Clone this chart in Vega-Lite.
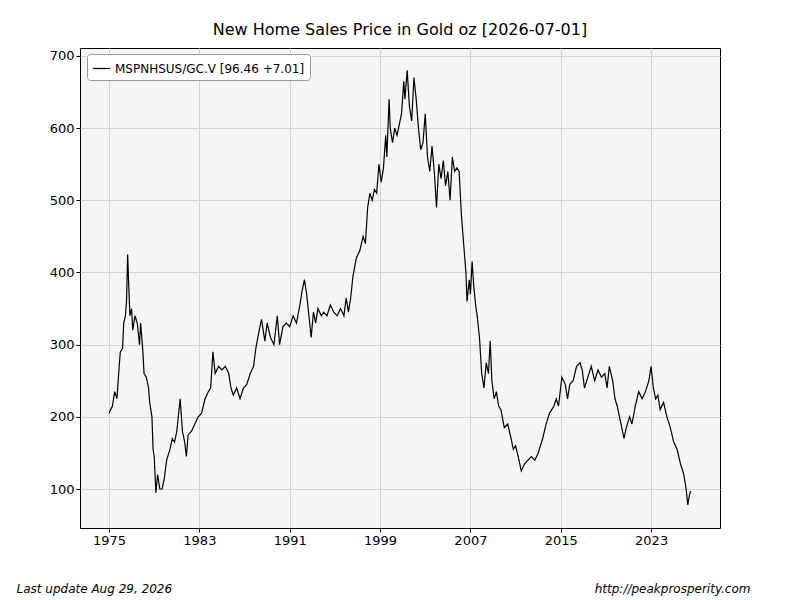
{
"$schema":"https://vega.github.io/schema/vega-lite/v6.json",
"width":640,"height":480,
"autosize":{"type":"none"},
"padding":{"left":80,"top":48,"right":80,"bottom":72},
"background":"white",
"config":{"font":"DejaVu Sans","view":{"fill":"#f5f5f5","stroke":"black","strokeWidth":1},
"axis":{"gridColor":"#d3d3d3","gridWidth":1,"labelFont":"DejaVu Sans","labelFontSize":13,"labelColor":"black","tickColor":"black","domain":false,"tickSize":4}},
"title":{"text":"New Home Sales Price in Gold oz  [2026-07-01]","fontSize":16,"fontWeight":"normal","font":"DejaVu Sans","offset":10,"color":"black"},
"data":{"values":[
{"t":1975.0,"v":205},{"t":1975.3,"v":215},{"t":1975.5,"v":235},{"t":1975.7,"v":225},{"t":1975.9,"v":270},{"t":1976.0,"v":290},{"t":1976.2,"v":295},{"t":1976.3,"v":330},{"t":1976.45,"v":340},{"t":1976.55,"v":360},{"t":1976.65,"v":425},{"t":1976.75,"v":380},{"t":1976.85,"v":340},{"t":1977.0,"v":350},{"t":1977.1,"v":320},{"t":1977.3,"v":340},{"t":1977.5,"v":330},{"t":1977.7,"v":300},{"t":1977.8,"v":330},{"t":1978.0,"v":290},{"t":1978.1,"v":260},{"t":1978.3,"v":255},{"t":1978.5,"v":240},{"t":1978.6,"v":220},{"t":1978.8,"v":200},{"t":1978.9,"v":155},{"t":1979.0,"v":145},{"t":1979.15,"v":95},{"t":1979.3,"v":120},{"t":1979.5,"v":100},{"t":1979.7,"v":100},{"t":1979.9,"v":115},{"t":1980.1,"v":140},{"t":1980.4,"v":155},{"t":1980.6,"v":170},{"t":1980.8,"v":165},{"t":1981.0,"v":180},{"t":1981.2,"v":210},{"t":1981.3,"v":225},{"t":1981.5,"v":180},{"t":1981.7,"v":165},{"t":1981.85,"v":145},{"t":1982.0,"v":175},{"t":1982.3,"v":180},{"t":1982.6,"v":190},{"t":1982.9,"v":200},{"t":1983.2,"v":205},{"t":1983.5,"v":225},{"t":1983.8,"v":235},{"t":1984.0,"v":240},{"t":1984.2,"v":290},{"t":1984.4,"v":260},{"t":1984.7,"v":270},{"t":1985.0,"v":265},{"t":1985.3,"v":270},{"t":1985.6,"v":260},{"t":1985.8,"v":240},{"t":1986.0,"v":230},{"t":1986.3,"v":240},{"t":1986.6,"v":225},{"t":1986.9,"v":240},{"t":1987.2,"v":245},{"t":1987.5,"v":260},{"t":1987.8,"v":270},{"t":1988.0,"v":295},{"t":1988.3,"v":320},{"t":1988.5,"v":335},{"t":1988.8,"v":305},{"t":1989.0,"v":330},{"t":1989.3,"v":310},{"t":1989.6,"v":300},{"t":1989.9,"v":340},{"t":1990.1,"v":300},{"t":1990.4,"v":325},{"t":1990.7,"v":330},{"t":1991.0,"v":325},{"t":1991.3,"v":340},{"t":1991.6,"v":330},{"t":1991.9,"v":355},{"t":1992.1,"v":375},{"t":1992.3,"v":390},{"t":1992.5,"v":370},{"t":1992.7,"v":340},{"t":1992.9,"v":310},{"t":1993.1,"v":345},{"t":1993.3,"v":330},{"t":1993.5,"v":350},{"t":1993.8,"v":340},{"t":1994.0,"v":345},{"t":1994.3,"v":340},{"t":1994.6,"v":355},{"t":1994.9,"v":345},{"t":1995.2,"v":340},{"t":1995.5,"v":350},{"t":1995.8,"v":340},{"t":1996.0,"v":365},{"t":1996.2,"v":345},{"t":1996.4,"v":365},{"t":1996.6,"v":395},{"t":1996.9,"v":420},{"t":1997.2,"v":430},{"t":1997.5,"v":450},{"t":1997.7,"v":440},{"t":1997.9,"v":490},{"t":1998.1,"v":510},{"t":1998.3,"v":500},{"t":1998.5,"v":515},{"t":1998.7,"v":510},{"t":1998.9,"v":550},{"t":1999.1,"v":525},{"t":1999.3,"v":545},{"t":1999.5,"v":590},{"t":1999.6,"v":560},{"t":1999.8,"v":640},{"t":1999.9,"v":600},{"t":2000.1,"v":580},{"t":2000.3,"v":600},{"t":2000.5,"v":590},{"t":2000.7,"v":605},{"t":2000.9,"v":620},{"t":2001.1,"v":665},{"t":2001.2,"v":640},{"t":2001.4,"v":680},{"t":2001.6,"v":630},{"t":2001.8,"v":610},{"t":2002.0,"v":670},{"t":2002.2,"v":640},{"t":2002.4,"v":600},{"t":2002.6,"v":570},{"t":2002.8,"v":580},{"t":2003.0,"v":620},{"t":2003.2,"v":560},{"t":2003.4,"v":540},{"t":2003.6,"v":575},{"t":2003.8,"v":540},{"t":2004.0,"v":490},{"t":2004.2,"v":550},{"t":2004.4,"v":530},{"t":2004.6,"v":555},{"t":2004.8,"v":520},{"t":2005.0,"v":540},{"t":2005.2,"v":500},{"t":2005.4,"v":560},{"t":2005.6,"v":540},{"t":2005.8,"v":545},{"t":2006.0,"v":540},{"t":2006.2,"v":480},{"t":2006.4,"v":440},{"t":2006.6,"v":400},{"t":2006.7,"v":360},{"t":2006.9,"v":390},{"t":2007.0,"v":370},{"t":2007.15,"v":415},{"t":2007.3,"v":380},{"t":2007.5,"v":350},{"t":2007.6,"v":340},{"t":2007.8,"v":310},{"t":2008.0,"v":260},{"t":2008.2,"v":240},{"t":2008.4,"v":275},{"t":2008.6,"v":260},{"t":2008.75,"v":305},{"t":2008.9,"v":250},{"t":2009.1,"v":225},{"t":2009.3,"v":235},{"t":2009.5,"v":215},{"t":2009.7,"v":210},{"t":2010.0,"v":185},{"t":2010.3,"v":190},{"t":2010.6,"v":170},{"t":2010.8,"v":155},{"t":2011.0,"v":160},{"t":2011.3,"v":140},{"t":2011.5,"v":125},{"t":2011.8,"v":135},{"t":2012.1,"v":140},{"t":2012.4,"v":145},{"t":2012.7,"v":140},{"t":2013.0,"v":150},{"t":2013.4,"v":170},{"t":2013.7,"v":190},{"t":2014.0,"v":205},{"t":2014.2,"v":210},{"t":2014.4,"v":215},{"t":2014.6,"v":225},{"t":2014.8,"v":215},{"t":2015.1,"v":255},{"t":2015.4,"v":245},{"t":2015.6,"v":225},{"t":2015.8,"v":245},{"t":2016.1,"v":250},{"t":2016.4,"v":270},{"t":2016.7,"v":275},{"t":2016.9,"v":265},{"t":2017.1,"v":240},{"t":2017.4,"v":255},{"t":2017.7,"v":270},{"t":2018.0,"v":250},{"t":2018.3,"v":265},{"t":2018.6,"v":255},{"t":2018.9,"v":260},{"t":2019.1,"v":240},{"t":2019.3,"v":270},{"t":2019.6,"v":250},{"t":2019.8,"v":225},{"t":2020.0,"v":215},{"t":2020.2,"v":200},{"t":2020.4,"v":185},{"t":2020.6,"v":170},{"t":2020.8,"v":185},{"t":2021.1,"v":200},{"t":2021.3,"v":190},{"t":2021.6,"v":215},{"t":2021.9,"v":235},{"t":2022.2,"v":225},{"t":2022.5,"v":235},{"t":2022.8,"v":250},{"t":2023.0,"v":270},{"t":2023.2,"v":240},{"t":2023.4,"v":225},{"t":2023.6,"v":230},{"t":2023.8,"v":210},{"t":2024.1,"v":220},{"t":2024.4,"v":200},{"t":2024.7,"v":185},{"t":2025.0,"v":165},{"t":2025.3,"v":155},{"t":2025.6,"v":135},{"t":2025.9,"v":120},{"t":2026.1,"v":100},{"t":2026.25,"v":78},{"t":2026.4,"v":92},{"t":2026.5,"v":97}
]},
"layer":[
{"mark":{"type":"line","strokeWidth":1.2},
"encoding":{
"x":{"field":"t","type":"quantitative","scale":{"domain":[1972.43,2029.1],"nice":false,"zero":false},
"axis":{"values":[1975,1983,1991,1999,2007,2015,2023],"format":"d","title":"Last update Aug 29, 2026","titleFontStyle":"italic","titleFontWeight":"normal","titleFontSize":12,"titleX":-64,"titleY":60,"titleAlign":"left","titleBaseline":"middle","titleColor":"black"}},
"y":{"field":"v","type":"quantitative","scale":{"domain":[46,711],"nice":false,"zero":false},
"axis":{"values":[100,200,300,400,500,600,700],"title":null}},
"color":{"datum":"MSPNHSUS/GC.V [96.46 +7.01]","type":"nominal","scale":{"range":["black"]},
"legend":{"title":null,"orient":"none","legendX":7,"legendY":6,"fillColor":"white","strokeColor":"#999","cornerRadius":3,"padding":5,"labelFontSize":12,"labelLimit":400,"symbolType":"stroke","symbolStrokeWidth":1.2,"symbolSize":300,"labelColor":"black"}}
}},
{"mark":{"type":"rule","opacity":0},
"encoding":{
"x":{"field":"t","type":"quantitative","scale":{"domain":[1972.43,2029.1],"nice":false,"zero":false},
"axis":{"orient":"bottom","labels":false,"ticks":false,"grid":false,"domain":false,"title":"http://peakprosperity.com","titleFontStyle":"italic","titleFontWeight":"normal","titleFontSize":12,"titleX":670,"titleY":60,"titleAlign":"right","titleBaseline":"middle","titleColor":"black"}}
}}
],
"resolve":{"scale":{"x":"independent"},"axis":{"x":"independent"}}
}
